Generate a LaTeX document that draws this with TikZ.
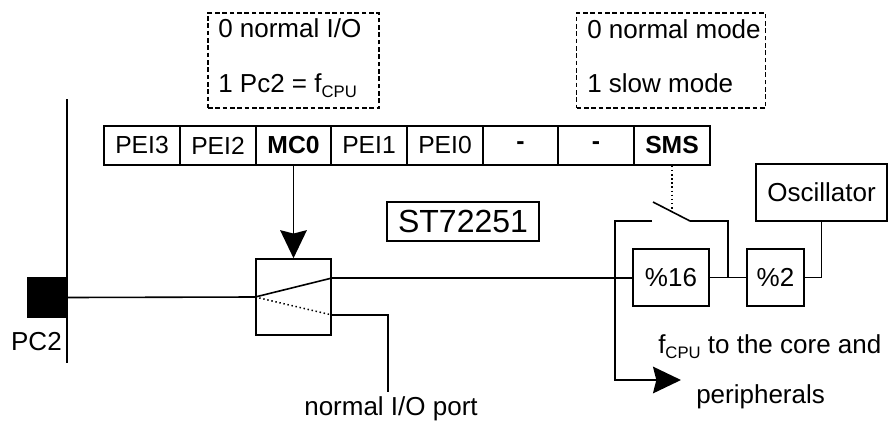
\documentclass[tikz,border=0pt]{standalone}
\usepackage{fontspec}
\setmainfont{Liberation Sans}
\usetikzlibrary{arrows.meta}
\newcommand{\cpusub}{\raisebox{-4pt}{\fontsize{12.5}{13}\selectfont CPU}}
\tikzset{
  wire/.style={line width=1.2pt},
  txt/.style={font=\fontsize{19.5}{23}\selectfont, inner sep=0pt},
  cell/.style={draw, line width=1.2pt, minimum width=56.85pt, minimum height=29.25pt, inner sep=0pt, font=\fontsize{18.5}{22}\selectfont},
  bcell/.style={cell, font=\fontsize{18.5}{22}\selectfont\bfseries},
  blk/.style={draw, line width=1.2pt, inner sep=0pt, font=\fontsize{19.5}{23}\selectfont},
  note/.style={draw, line width=1pt, dash pattern=on 3.5pt off 2pt, inner sep=0pt, minimum width=128.25pt, minimum height=71.25pt},
  bigarrow/.style={-{Stealth[length=21pt,width=20pt,inset=2.5pt]}}
}
\begin{document}
\begin{tikzpicture}[x=0.75pt,y=-0.75pt]
\useasboundingbox (0,0) rectangle (889,422);

% notes
\node[note] (note1) at (293.5,60.5) {};
\node[note, minimum width=141.75pt] (note2) at (671,60.5) {};
\node[txt, anchor=base west] (n1a) at (218,37) {0 normal I/O};
\node[txt, anchor=base west] (n1b) at (218,92) {1 Pc2 = f\cpusub};
\node[txt, anchor=base west] (n2a) at (587,38) {0 normal mode};
\node[txt, anchor=base west] (n2b) at (587,92) {1 slow mode};

% register
\node[cell]  (r1) at (142,145.5) {PEI3};
\node[cell]  (r2) at (218,145.5) {PEI2};
\node[bcell] (r3) at (293.5,145.5) {MC0};
\node[cell]  (r4) at (369,145.5) {PEI1};
\node[cell]  (r5) at (445,145.5) {PEI0};
\node[bcell] (r6) at (520.5,145.5) {-};
\node[bcell] (r7) at (596,145.5) {-};
\node[bcell] (r8) at (672,145.5) {SMS};

% chip name
\node[blk, minimum width=114pt, minimum height=29.25pt, font=\fontsize{24}{28}\selectfont] (st) at (463,221.5) {ST72251};

% pin and bus
\coordinate (bus1) at (67,99);
\coordinate (bus2) at (67,363);
\draw[wire] (bus1) -- (bus2);
\node[fill=black, draw, line width=1.2pt, minimum size=29.25pt, inner sep=0pt] (pin) at (47.5,297.5) {};
\node[txt, anchor=base east] (pc2) at (62,350) {PC2};

% mux box
\node[blk, minimum width=56.25pt, minimum height=57pt] (sw) at (293.5,297) {};
\coordinate (swA) at (332,278);
\coordinate (swB) at (332,315);
\coordinate (ioend) at (388,392);
\draw[wire] (pin.east) -- (sw.west);
\draw[wire] (sw.west) -- (swA);
\draw[line width=1.1pt, dotted] (sw.west) -- (swB);
\draw[wire] (swB) -| (ioend);
\node[txt, anchor=base] (iolbl) at (391,415) {normal I/O port};
\draw[wire, bigarrow] (r3.south) -- (sw.north);

% dividers and oscillator
\node[blk, minimum width=57pt, minimum height=42.75pt] (d16) at (671,277.5) {\%16};
\node[blk, minimum width=42.75pt, minimum height=42.75pt] (d2) at (775.5,277.5) {\%2};
\node[blk, minimum width=98.5pt, minimum height=42.75pt] (osc) at (821.5,192.5) {Oscillator};
\draw[wire] (swA) -- (swA -| d16.west);
\draw[wire] (d16.east) -- (d2.west);
\draw[wire] (osc.south) |- (d2.east);

% slow mode switch
\coordinate (bl1) at (653,202);
\coordinate (bl2) at (690,221);
\coordinate (lc) at (652,221);
\coordinate (jn) at (615,221);
\coordinate (j2) at (728,278);
\coordinate (blm) at (672,211.5);
\coordinate (ftip) at (681,380);
\draw[wire] (bl1) -- (bl2);
\draw[line width=1.1pt, dotted] (r8.south) -- (blm);
\draw[wire] (bl2) -| (j2);
\draw[wire, bigarrow] (lc) -- (jn) |- (ftip);

\node[txt, anchor=base west] (fc) at (658,353) {f\cpusub{} to the core and};
\node[txt, anchor=base west] (per) at (696,403) {peripherals};
\end{tikzpicture}
\end{document}
